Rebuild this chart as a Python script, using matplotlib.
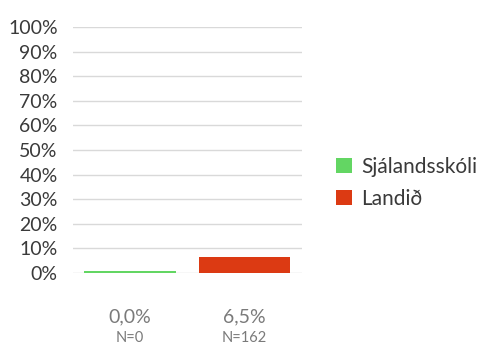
import matplotlib
matplotlib.use("Agg")
import matplotlib.pyplot as plt
from matplotlib.patches import Patch
from matplotlib.transforms import blended_transform_factory

# Share of respondents per group (percent)
series = ["Sjálandsskóli", "Landið"]
values = [0.0, 6.5]
counts = [0, 162]
colors = ["#63d663", "#dc3a13"]
yticks = [0, 10, 20, 30, 40, 50, 60, 70, 80, 90, 100]

# a zero value is still shown as a thin sliver
min_visible = 1.0

plt.rcParams["font.family"] = ["Lato", "DejaVu Sans"]

fig = plt.figure(figsize=(4.88, 3.45), dpi=100)
ax = fig.add_axes([0.1496, 0.2087, 0.469, 0.713])

xs = list(range(len(series)))
heights = [max(v, min_visible) for v in values]
ax.bar(xs, heights, width=0.8, color=colors, zorder=3)

ax.set_xlim(-0.5, len(series) - 0.5)
ax.set_ylim(0, 100)
ax.set_yticks(yticks)
ax.set_yticklabels([f"{t}%" for t in yticks], fontsize=14, color="#3a3a3a")
ax.tick_params(axis="y", length=0, pad=11)
ax.set_xticks([])
ax.yaxis.grid(True, color="#d9d9d9", linewidth=1.0, zorder=0)
for s in ax.spines.values():
    s.set_visible(False)

trans = blended_transform_factory(ax.transData, fig.transFigure)
for x, v, n in zip(xs, values, counts):
    ax.text(x, 1 - 317 / 345, f"{v:.1f}%".replace(".", ","), transform=trans,
            ha="center", va="center", fontsize=14, color="#7a7a7a")
    ax.text(x, 1 - 338 / 345, f"N={n}", transform=trans,
            ha="center", va="center", fontsize=10.5, color="#7a7a7a")

handles = [Patch(facecolor=c, edgecolor="none") for c in colors]
fig.legend(handles, series, loc="center left", bbox_to_anchor=(0.672, 0.47),
           frameon=False, fontsize=15, labelcolor="#3a3a3a",
           handlelength=0.75, handleheight=0.75, handletextpad=0.45,
           labelspacing=0.6, borderaxespad=0)

fig.savefig("out.png", dpi=100)
